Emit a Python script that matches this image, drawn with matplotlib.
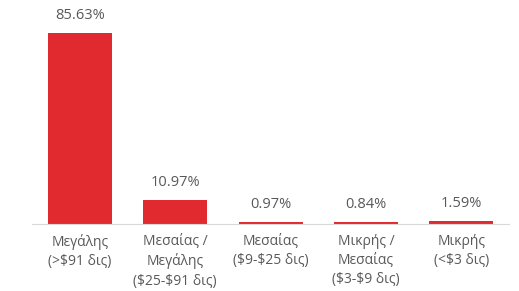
import matplotlib
matplotlib.use("Agg")
import matplotlib.pyplot as plt

# Dati
categorie = ["Μεγάλης\n(>\\$91 δις)", "Μεσαίας /\nΜεγάλης\n(\\$25-\\$91 δις)", "Μεσαίας\n(\\$9-\\$25 δις)",
             "Μικρής /\nΜεσαίας\n(\\$3-\\$9 δις)", "Μικρής\n(<\\$3 δις)"]
valori = [85.63, 10.97, 0.97, 0.84, 1.59]
etichette = ["85.63%", "10.97%", "0.97%", "0.84%", "1.59%"]

plt.rcParams['font.family'] = ['Open Sans', 'DejaVu Sans']

fig = plt.figure(figsize=(5.19, 2.91), dpi=100)
ax = fig.add_axes([0.0617, 0.230, 0.9193, 0.766])

x = range(len(valori))
bars = ax.bar(x, valori, width=0.67, color="#e02a2f")

for b, lab in zip(bars, etichette):
    ax.annotate(lab, (b.get_x() + b.get_width() / 2, b.get_height()),
                xytext=(0, 7), textcoords="offset points",
                ha="center", va="bottom", fontsize=10.5, color="#595959")

ax.set_xlim(-0.5, len(valori) - 0.5)
ax.set_ylim(0, 100)
ax.set_yticks([])
ax.set_xticks(list(x))
ax.set_xticklabels(categorie, fontsize=10, color="#595959", linespacing=1.38)
ax.tick_params(axis="x", length=0, pad=7)

for s in ["top", "right", "left"]:
    ax.spines[s].set_visible(False)
ax.spines["bottom"].set_color("#d9d9d9")

fig.savefig("out.png", dpi=100)
